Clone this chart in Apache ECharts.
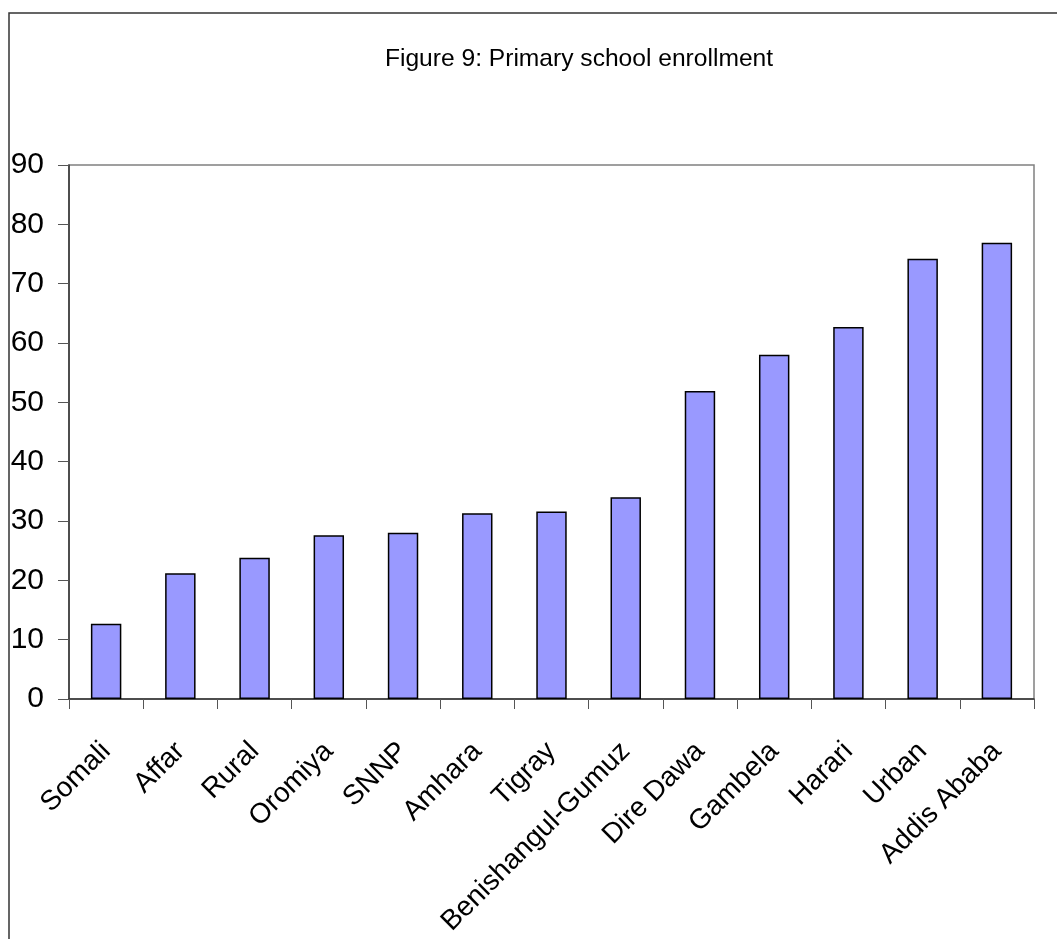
<!DOCTYPE html>
<html>
<head>
<meta charset="utf-8">
<script src="https://cdn.jsdelivr.net/npm/echarts@6/dist/echarts.min.js"></script>
<style>
  html, body { margin: 0; padding: 0; background: #fff; }
  #chart { width: 1057px; height: 939px; }
</style>
</head>
<body>
<div id="chart"></div>
<script>
// Regions ordered by enrollment rate
const regions = ['Somali', 'Affar', 'Rural', 'Oromiya', 'SNNP', 'Amhara', 'Tigray',
  'Benishangul-Gumuz', 'Dire Dawa', 'Gambela', 'Harari', 'Urban', 'Addis Ababa'];
// Primary school enrollment (%)
const enrollment = [12.7, 21.2, 23.8, 27.6, 28.0, 31.3, 31.6, 34.0, 51.9, 58.0, 62.7, 74.2, 76.9];
const chartTitle = 'Figure 9: Primary school enrollment';

const font = '"Liberation Sans", Arial, Helvetica, sans-serif';
const chart = echarts.init(document.getElementById('chart'));

chart.setOption({
  animation: false,
  backgroundColor: '#ffffff',
  title: {
    text: chartTitle,
    left: 574,
    top: 42,
    textAlign: 'center',
    textStyle: { fontFamily: font, fontSize: 24.6, fontWeight: 'normal', color: '#000' }
  },
  graphic: [{
    type: 'rect',
    shape: { x: 9, y: 13, width: 1100, height: 1000 },
    style: { fill: 'none', stroke: '#333', lineWidth: 1.5 },
    silent: true
  }],
  grid: {
    left: 69, right: 23, top: 165, bottom: 240,
    show: true, borderColor: '#808080', borderWidth: 1.5, backgroundColor: 'transparent'
  },
  xAxis: {
    type: 'category',
    data: regions,
    axisLine: { lineStyle: { color: '#333', width: 1.5 } },
    axisTick: { show: true, length: 10, interval: 0, lineStyle: { color: '#555', width: 1 } },
    axisLabel: {
      interval: 0, rotate: 45, margin: 48,
      fontFamily: font, fontSize: 28, color: '#000'
    }
  },
  yAxis: {
    type: 'value',
    min: 0, max: 90, interval: 10,
    axisLine: { show: true, lineStyle: { color: '#333', width: 1.5 } },
    axisTick: { show: true, length: 11, lineStyle: { color: '#555', width: 1 } },
    splitLine: { show: false },
    axisLabel: { margin: 25, fontFamily: font, fontSize: 30, color: '#000' }
  },
  series: [{
    type: 'bar',
    data: enrollment,
    barCategoryGap: '59%',
    itemStyle: { color: '#9999ff', borderColor: '#000', borderWidth: 1.5 }
  }]
});
</script>
</body>
</html>
